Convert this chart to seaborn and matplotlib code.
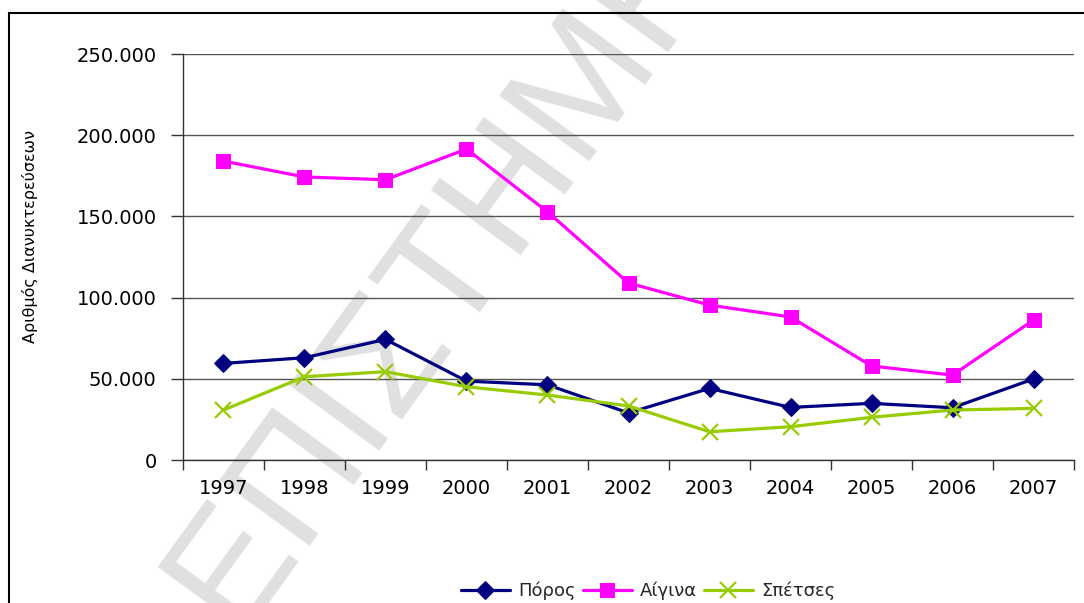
import matplotlib
matplotlib.use("Agg")
import matplotlib.pyplot as plt
import matplotlib.ticker as mticker
from matplotlib.patches import Rectangle
import pandas as pd
import seaborn as sns

# Διανυκτερεύσεις ανά νησί
years = [1997, 1998, 1999, 2000, 2001, 2002, 2003, 2004, 2005, 2006, 2007]
poros = [59500, 63000, 74300, 48600, 46300, 29000, 44100, 32400, 34900, 32200, 49900]
aigina = [184100, 174300, 172600, 191500, 152800, 109000, 95400, 88100, 57900, 52300, 86200]
spetses = [30800, 51300, 54400, 45100, 40000, 33300, 17400, 20500, 26300, 30800, 31800]

series_names = ["Πόρος", "Αίγινα", "Σπέτσες"]
series_values = [poros, aigina, spetses]
y_ticks = [0, 50000, 100000, 150000, 200000, 250000]

sns.set_style("white")
plt.rcParams["font.family"] = ["DejaVu Sans"]

df = pd.DataFrame({"year": years})
df["pos"] = range(len(years))
for name, vals in zip(series_names, series_values):
    df[name] = vals

fig = plt.figure(figsize=(10.84, 6.03), dpi=100)
ax = fig.add_axes([0.1688, 0.2371, 0.822, 0.6733])
ax.patch.set_alpha(0)

styles = {
    "Πόρος": dict(color="#000080", marker="D", markersize=9.5),
    "Αίγινα": dict(color="#FF00FF", marker="s", markersize=10),
    "Σπέτσες": dict(color="#99CC00", marker="x", markersize=11, markeredgewidth=1.6),
}
for name in series_names:
    st = styles[name]
    sns.lineplot(data=df, x="pos", y=name, ax=ax, linewidth=2.3, label=name,
                 markeredgecolor=st["color"], **st)

ax.set_xlim(-0.5, len(years) - 0.5)
ax.set_ylim(0, 250000)
ax.set_yticks(y_ticks)
ax.yaxis.set_major_formatter(mticker.FuncFormatter(
    lambda v, p: "0" if v == 0 else f"{int(v):,}".replace(",", ".")))
ax.grid(axis="y", color="#555555", linewidth=1)
ax.set_axisbelow(True)

# ticks στα όρια των κατηγοριών, ετικέτες στο κέντρο
ax.set_xticks([i - 0.5 for i in range(len(years) + 1)])
ax.set_xticklabels([])
ax.set_xticks(list(range(len(years))), minor=True)
ax.set_xticklabels([str(y) for y in years], minor=True, fontsize=14)
ax.tick_params(axis="x", which="major", length=7, width=1, color="#333333", direction="out")
ax.tick_params(axis="x", which="minor", length=0, pad=14)
ax.tick_params(axis="y", length=9, width=1, color="#333333", direction="out",
               labelsize=14, pad=10)
ax.tick_params(bottom=True, left=True, which="both", labelcolor="black")

for side in ["top", "right"]:
    ax.spines[side].set_visible(False)
for side in ["left", "bottom"]:
    ax.spines[side].set_color("#333333")
    ax.spines[side].set_linewidth(1)

ax.set_xlabel("")
ax.set_ylabel("Αριθμός Διανυκτερεύσεων", fontsize=11.5, color="black")
ax.yaxis.set_label_coords(-0.163, 0.55)

leg = ax.legend(loc="center", bbox_to_anchor=(0.522, -0.322), ncol=3, frameon=False,
                fontsize=13, handlelength=2.7, columnspacing=0.4, handletextpad=0.45,
                borderpad=0)

# πλαίσιο γραφήματος
fig.patches.append(Rectangle((9 / 1084, -0.1), 1.2, 1 - 13 / 603 + 0.1,
                             transform=fig.transFigure, fill=False,
                             edgecolor="black", linewidth=1.5))

# υδατογράφημα
fig.text(235 / 1084, 1 - 632 / 603, "ΕΠΙΣΤΗΜΗ", rotation=54, rotation_mode="anchor",
         ha="left", va="baseline", fontsize=116, color="#e0e0e0", zorder=-1,
         family="Liberation Sans")

fig.savefig("out.png", dpi=100)
